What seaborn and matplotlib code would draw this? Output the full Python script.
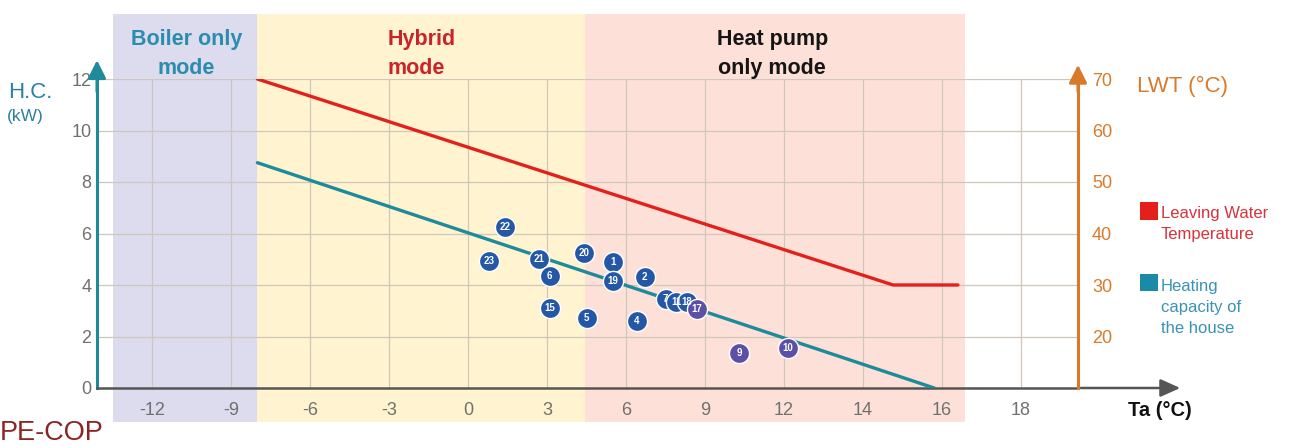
import matplotlib.pyplot as plt
import numpy as np
import pandas as pd
import seaborn as sns
from matplotlib.legend_handler import HandlerPatch
from matplotlib.patches import Patch, Rectangle

# x axis of the original is not linear: 3 degC per grid step up to 12, then 2 degC
tick_vals = [-12, -9, -6, -3, 0, 3, 6, 9, 12, 14, 16, 18]
knots_real = [-18, -15] + tick_vals + [20, 22, 24, 26]
knots_pos = list(range(len(knots_real)))

hc_ticks = [0, 2, 4, 6, 8, 10, 12]
lwt_ticks = [20, 30, 40, 50, 60, 70]

# heating capacity of the house (kW) vs outdoor temperature Ta
hc_ta = [-8.0, 15.8]
hc_kw = [8.75, 0.0]

# leaving water temperature (degC)
lwt_ta = [-8.0, 14.76, 16.4]
lwt_c = [70, 30, 30]

# measured houses
pt_label = ["22", "23", "21", "6", "20", "1", "19", "2", "15", "5", "4",
            "7", "11", "18", "17", "9", "10"]
pt_ta = [1.4, 0.8, 2.7, 3.1, 4.4, 5.5, 5.5, 6.7, 3.1, 4.5, 6.4,
         7.5, 7.9, 8.3, 8.7, 10.3, 12.1]
pt_hc = [6.25, 4.95, 5.0, 4.35, 5.25, 4.9, 4.15, 4.3, 3.1, 2.7, 2.6,
         3.45, 3.35, 3.35, 3.05, 1.35, 1.55]
pt_group = ["blue"] * 14 + ["purple"] * 3

# operating modes (Ta ranges)
mode_name = ["Boiler only\nmode", "Hybrid\nmode", "Heat pump\nonly mode"]
mode_from = [-13.5, -8.0, 4.45]
mode_to = [-8.0, 4.45, 16.58]

legend_labels = ["Leaving Water\nTemperature", "Heating\ncapacity of\nthe house"]

pts = pd.DataFrame({"ta": pt_ta, "hc": pt_hc, "label": pt_label, "group": pt_group})


def fwd(x):
    return np.interp(x, knots_real, knots_pos)


def inv(p):
    return np.interp(p, knots_pos, knots_real)


def top_square(legend, orig_handle, xdescent, ydescent, width, height, fontsize):
    # put the square next to the first line of a multi-line label
    n = orig_handle.get_label().count("\n")
    side = 1.05 * fontsize
    y = -ydescent + n * 0.5 * 16.3 + (height - side) / 2 + 1.5
    return Rectangle((-xdescent, y), side, side)


sns.set_theme(style="white")
plt.rcParams["font.family"] = ["Liberation Sans", "DejaVu Sans"]

teal = "#1f8a9c"
red = "#e3201c"
orange = "#d97a2b"
gridc = "#cfc6bc"

fig = plt.figure(figsize=(12.93, 4.46), dpi=100)
ax = fig.add_axes([97 / 1293, 58 / 446, 981 / 1293, 309 / 446])
ax.set_xscale("function", functions=(fwd, inv))
ax.set_xlim(-14.09, 19.44)
ax.set_ylim(0, 12)

span_colors = ["#dcdcee", "#fff4cf", "#fde1d8"]
for a, b, c in zip(mode_from, mode_to, span_colors):
    ax.axvspan(a, b, ymin=-0.11, ymax=1.21, color=c, lw=0, zorder=0, clip_on=False)

ax.set_xticks(tick_vals)
ax.set_xticklabels([str(v) for v in tick_vals])
ax.set_yticks(hc_ticks)
ax.grid(True, color=gridc, lw=0.9, zorder=0.5)
ax.set_axisbelow(True)
ax.tick_params(axis="x", length=4, color=gridc, pad=6, labelsize=13, labelcolor="#707070")
ax.tick_params(axis="y", length=0, pad=4, labelsize=13, labelcolor="#707070")
for s in ["top", "right"]:
    ax.spines[s].set_visible(False)
ax.spines["left"].set_color(teal)
ax.spines["left"].set_linewidth(2.2)
ax.spines["bottom"].set_color("#555555")
ax.spines["bottom"].set_linewidth(1.8)

# axis arrows
ax.annotate("", xy=(0, 1.07), xytext=(0, 0.95), xycoords="axes fraction",
            arrowprops=dict(arrowstyle="-|>,head_length=0.9,head_width=0.45",
                            color=teal, lw=2.2), annotation_clip=False)
ax.annotate("", xy=(1.107, 0), xytext=(1.0, 0), xycoords="axes fraction",
            arrowprops=dict(arrowstyle="-|>,head_length=1.0,head_width=0.45",
                            color="#555555", lw=1.8), annotation_clip=False)

sns.lineplot(x=hc_ta, y=hc_kw, ax=ax, color=teal, lw=2.4, zorder=3)

for grp, col in [("blue", "#2457a6"), ("purple", "#5c50a6")]:
    sub = pts[pts["group"] == grp]
    sns.scatterplot(data=sub, x="ta", y="hc", ax=ax, s=210, color=col,
                    edgecolor="white", linewidth=1.0, zorder=4)
for _, r in pts.iterrows():
    ax.text(r["ta"], r["hc"], r["label"], color="white", fontsize=7,
            fontweight="bold", ha="center", va="center", zorder=5)
ax.set_xlabel("")
ax.set_ylabel("")

ax2 = ax.twinx()
ax2.set_ylim(10, 70)
ax2.set_yticks(lwt_ticks)
ax2.tick_params(axis="y", length=0, pad=10, labelsize=13, labelcolor=orange)
for s in ["top", "left", "bottom"]:
    ax2.spines[s].set_visible(False)
ax2.spines["right"].set_color(orange)
ax2.spines["right"].set_linewidth(2.2)
ax2.annotate("", xy=(1.0, 1.055), xytext=(1.0, 0.95), xycoords="axes fraction",
             arrowprops=dict(arrowstyle="-|>,head_length=0.9,head_width=0.45",
                             color=orange, lw=2.2), annotation_clip=False)
sns.lineplot(x=lwt_ta, y=lwt_c, ax=ax2, color=red, lw=2.4)
ax2.set_ylabel("")

# mode titles
ty = 12.97
ax.text(-10.7, ty, mode_name[0], color="#2b8cae", fontsize=15.5, fontweight="bold",
        ha="center", va="center", linespacing=1.45)
ax.text(-3.05, ty, mode_name[1], color="#c8242a", fontsize=15.5, fontweight="bold",
        ha="left", va="center", linespacing=1.45)
ax.text(11.55, ty, mode_name[2], color="#151515", fontsize=15.5, fontweight="bold",
        ha="center", va="center", linespacing=1.45)

# axis titles
fig.text(8 / 1293, 1 - 92 / 446, "H.C.", color="#2a7fa5", fontsize=16, va="center")
fig.text(7 / 1293, 1 - 117 / 446, "(kW)", color="#2a7fa5", fontsize=12.5, va="center")
fig.text(1137 / 1293, 1 - 86 / 446, "LWT (°C)", color=orange, fontsize=16, va="center")
fig.text(1128 / 1293, 1 - 410 / 446, "Ta (°C)", color="#111111", fontsize=14.5,
         fontweight="bold", va="center")
fig.text(0, 1 - 433 / 446, "PE-COP", color="#8c2424", fontsize=19.5, va="center")

handles = [Patch(facecolor=red, edgecolor="none", label=legend_labels[0]),
           Patch(facecolor="#1a8aa8", edgecolor="none", label=legend_labels[1])]
leg = fig.legend(handles=handles, loc="upper left",
                 bbox_to_anchor=(1140 / 1293, 1 - 206 / 446),
                 frameon=False, fontsize=12, handlelength=1.0, handleheight=1.0,
                 handletextpad=0.25, labelspacing=2.2, borderpad=0, borderaxespad=0,
                 handler_map={Patch: HandlerPatch(patch_func=top_square)})
for t, c in zip(leg.get_texts(), ["#d8323a", "#3a92b5"]):
    t.set_color(c)
    t.set_linespacing(1.5)

fig.savefig("out.png", dpi=100)
